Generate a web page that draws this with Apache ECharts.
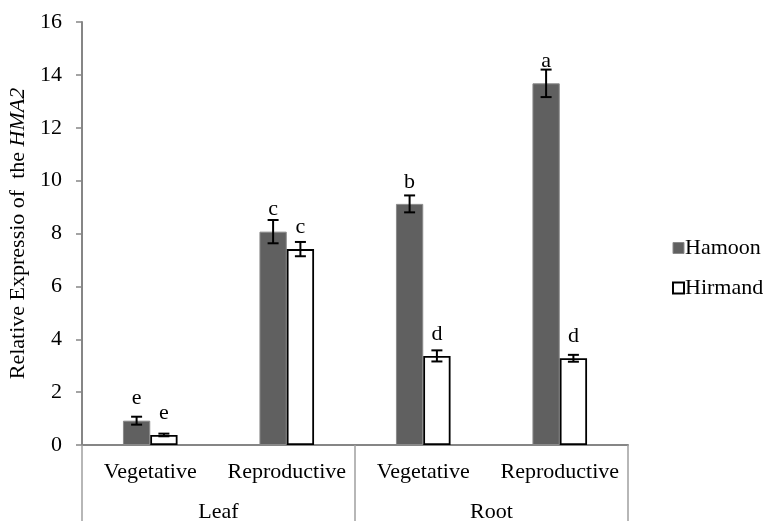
<!DOCTYPE html>
<html>
<head>
<meta charset="utf-8">
<script src="https://cdn.jsdelivr.net/npm/echarts@6/dist/echarts.min.js"></script>
<style>html,body{margin:0;padding:0;background:#fff;}#main{width:763px;height:521px;}</style>
</head>
<body>
<div id="main"></div>
<script>
var categories = ['Vegetative', 'Reproductive', 'Vegetative', 'Reproductive'];
var organs = ['Leaf', 'Root'];
var seriesNames = ['Hamoon', 'Hirmand'];
var hamoon = [0.92, 8.07, 9.12, 13.68];
var hamoonErr = [0.15, 0.44, 0.32, 0.52];
var hirmand = [0.38, 7.41, 3.37, 3.28];
var hirmandErr = [0.05, 0.27, 0.21, 0.13];
var hamoonLetters = ['e', 'c', 'b', 'a'];
var hirmandLetters = ['e', 'c', 'd', 'd'];
var yMin = 0, yMax = 16, yStep = 2;

var FONT = '"Liberation Serif", "Times New Roman", serif';
var FS = 22;
var BAR_FRAC = 0.2;

function errSeries(vals, errs, letters, side) {
  var data = vals.map(function (v, i) { return [i, v, errs[i]]; });
  return {
    type: 'custom',
    xAxisIndex: 0,
    yAxisIndex: 0,
    z: 10,
    silent: true,
    data: data,
    renderItem: function (params, api) {
      var idx = api.value(0);
      var v = api.value(1), e = api.value(2);
      var band = api.size([1, 0])[0];
      var c = api.coord([idx, v]);
      var x = c[0] + side * band * BAR_FRAC / 2;
      var top = api.coord([idx, v + e])[1];
      var bot = api.coord([idx, v - e])[1];
      var cap = 5.5;
      var st = { stroke: '#000', lineWidth: 2 };
      return {
        type: 'group',
        children: [
          { type: 'line', shape: { x1: x, y1: top, x2: x, y2: bot }, style: st },
          { type: 'line', shape: { x1: x - cap, y1: top, x2: x + cap, y2: top }, style: st },
          { type: 'line', shape: { x1: x - cap, y1: bot, x2: x + cap, y2: bot }, style: st },
          { type: 'text', style: { text: letters[idx], x: x, y: c[1] - 11, textAlign: 'center', textVerticalAlign: 'bottom', font: FS + 'px ' + FONT, fill: '#000' } }
        ]
      };
    }
  };
}

var chart = echarts.init(document.getElementById('main'));
chart.setOption({
  animation: false,
  backgroundColor: '#fff',
  grid: { left: 82, right: 135, top: 22, bottom: 76, containLabel: false, outerBoundsMode: 'none' },
  legend: {
    orient: 'vertical',
    left: 667,
    top: 232,
    itemWidth: 11,
    itemHeight: 11,
    itemGap: 18,
    icon: 'rect',
    textStyle: { fontFamily: FONT, fontSize: FS, color: '#000', padding: [0, 0, 0, -4] },
    data: [
      { name: 'Hamoon', itemStyle: { color: '#606060', borderColor: '#8a8a8a', borderWidth: 1 } },
      { name: 'Hirmand', itemStyle: { color: '#fff', borderColor: '#000', borderWidth: 2 } }
    ]
  },
  xAxis: [
    {
      type: 'category',
      data: categories,
      position: 'bottom',
      axisLine: { show: true, lineStyle: { color: '#868686', width: 2 } },
      axisTick: { show: false },
      axisLabel: { fontFamily: FONT, fontSize: FS, color: '#000', margin: 16, interval: 0 },
      splitLine: { show: false }
    },
    {
      type: 'category',
      data: organs,
      position: 'bottom',
      axisLine: { show: false },
      axisTick: { show: true, length: 76, lineStyle: { color: '#a0a0a0', width: 1.5 } },
      axisLabel: { fontFamily: FONT, fontSize: FS, color: '#000', margin: 56 },
      splitLine: { show: false }
    }
  ],
  yAxis: {
    type: 'value',
    min: yMin,
    max: yMax,
    interval: yStep,
    name: '{n|Relative Expressio of  the }{i|HMA2}',
    nameLocation: 'middle',
    nameGap: 51,
    nameRotate: 90,
    nameTextStyle: {
      rich: {
        n: { fontFamily: FONT, fontSize: FS, color: '#000' },
        i: { fontFamily: FONT, fontSize: FS, color: '#000', fontStyle: 'italic' }
      }
    },
    axisLine: { show: true, lineStyle: { color: '#868686', width: 2 } },
    axisTick: { show: true, length: 6, lineStyle: { color: '#868686', width: 1.5 } },
    axisLabel: { fontFamily: FONT, fontSize: FS, color: '#000', margin: 20 },
    splitLine: { show: false }
  },
  series: [
    {
      name: 'Hamoon',
      type: 'bar',
      data: hamoon,
      barWidth: (BAR_FRAC * 100) + '%',
      barGap: '0%',
      itemStyle: { color: '#606060', borderColor: '#8a8a8a', borderWidth: 1 }
    },
    {
      name: 'Hirmand',
      type: 'bar',
      data: hirmand,
      barWidth: (BAR_FRAC * 100) + '%',
      barGap: '0%',
      itemStyle: { color: '#fff', borderColor: '#000', borderWidth: 1.8 }
    },
    errSeries(hamoon, hamoonErr, hamoonLetters, -1),
    errSeries(hirmand, hirmandErr, hirmandLetters, 1)
  ]
});
</script>
</body>
</html>
